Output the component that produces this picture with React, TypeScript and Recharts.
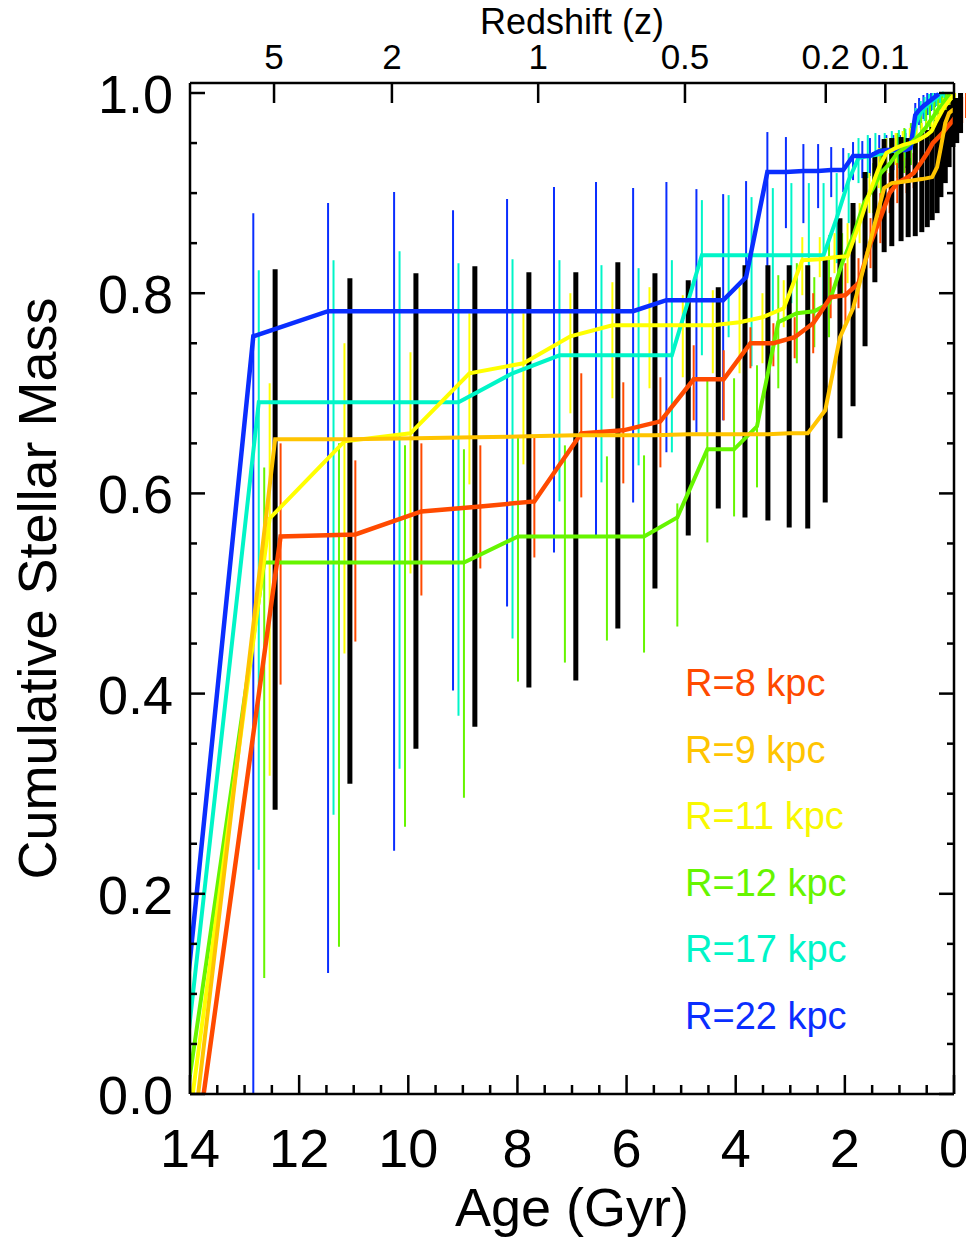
import { LineChart, Line, XAxis, YAxis, ErrorBar, Label, Legend } from "recharts";

const FONT = "'Liberation Sans', Arial, Helvetica, sans-serif";

// age bins (Gyr) of the R=9 kpc series; the other radii are dodged sideways
const binAge = [
  13.85, 12.44, 11.07, 9.86, 8.78, 7.79, 6.93, 6.16, 5.48, 4.87, 4.32, 3.83, 3.41, 3.02, 2.68, 2.36, 2.09,
  1.85, 1.63, 1.45, 1.28, 1.14, 0.97, 0.84, 0.71, 0.59, 0.49, 0.4, 0.31, 0.24, 0.16, 0.09, 0.02, -0.05, -0.12,
];

const r8Mass = [0, 0.557, 0.559, 0.582, 0.587, 0.592, 0.66, 0.663, 0.672, 0.714, 0.714, 0.75, 0.75, 0.756, 0.77, 0.796, 0.798, 0.81, 0.85, 0.875, 0.9, 0.91, 0.915, 0.92, 0.93, 0.94, 0.95, 0.955, 0.96, 0.965, 0.97, 0.975, 0.98, 0.985, 0.99];
const r8Lo = [0, 0.409, 0.452, 0.498, 0.525, 0.536, 0.596, 0.61, 0.626, 0.673, 0.673, 0.725, 0.727, 0.735, 0.74, 0.775, 0.77, 0.785, 0.825, 0.85, 0.88, 0.89, 0.9, 0.905, 0.915, 0.925, 0.935, 0.94, 0.945, 0.95, 0.955, 0.96, 0.965, 0.97, 0.975];
const r8Hi = [0, 0.65, 0.633, 0.65, 0.648, 0.658, 0.72, 0.711, 0.716, 0.748, 0.743, 0.766, 0.77, 0.776, 0.8, 0.816, 0.83, 0.835, 0.875, 0.9, 0.92, 0.93, 0.935, 0.94, 0.945, 0.955, 0.965, 0.97, 0.975, 0.98, 0.985, 0.99, 0.993, 0.996, 1.0];

const r9Mass = [0, 0.654, 0.654, 0.655, 0.656, 0.657, 0.658, 0.658, 0.658, 0.659, 0.659, 0.659, 0.659, 0.66, 0.66, 0.683, 0.756, 0.785, 0.831, 0.87, 0.905, 0.91, 0.911, 0.912, 0.913, 0.914, 0.915, 0.916, 0.926, 0.946, 0.97, 0.98, 0.983, 0.985, 0.99];
const r9Lo = [0, 0.284, 0.31, 0.345, 0.367, 0.406, 0.413, 0.465, 0.505, 0.558, 0.585, 0.576, 0.573, 0.566, 0.565, 0.591, 0.655, 0.687, 0.747, 0.811, 0.841, 0.847, 0.852, 0.856, 0.857, 0.861, 0.866, 0.873, 0.88, 0.896, 0.91, 0.926, 0.946, 0.95, 0.96];
const r9Hi = [0, 0.824, 0.815, 0.82, 0.827, 0.821, 0.821, 0.831, 0.82, 0.813, 0.806, 0.828, 0.828, 0.828, 0.828, 0.834, 0.875, 0.89, 0.921, 0.941, 0.954, 0.955, 0.956, 0.955, 0.954, 0.96, 0.963, 0.966, 0.973, 0.98, 0.983, 0.988, 0.993, 0.995, 1.0];

const r11Mass = [0, 0.575, 0.652, 0.66, 0.72, 0.73, 0.757, 0.768, 0.768, 0.768, 0.768, 0.771, 0.776, 0.785, 0.833, 0.834, 0.836, 0.837, 0.87, 0.9, 0.925, 0.94, 0.945, 0.948, 0.95, 0.952, 0.955, 0.958, 0.962, 0.97, 0.978, 0.985, 0.99, 0.995, 0.998];
const r11Lo = [0, 0.318, 0.44, 0.52, 0.609, 0.629, 0.68, 0.695, 0.705, 0.716, 0.72, 0.72, 0.73, 0.766, 0.798, 0.816, 0.82, 0.81, 0.85, 0.88, 0.905, 0.92, 0.928, 0.932, 0.935, 0.938, 0.94, 0.943, 0.948, 0.955, 0.965, 0.972, 0.978, 0.985, 0.99];
const r11Hi = [0, 0.71, 0.75, 0.741, 0.78, 0.78, 0.8, 0.811, 0.806, 0.798, 0.803, 0.806, 0.8, 0.813, 0.856, 0.856, 0.86, 0.87, 0.89, 0.92, 0.945, 0.955, 0.96, 0.962, 0.965, 0.967, 0.97, 0.972, 0.976, 0.982, 0.99, 0.995, 0.998, 1.0, 1.0];

const r12Mass = [0, 0.531, 0.531, 0.531, 0.531, 0.557, 0.557, 0.557, 0.557, 0.576, 0.644, 0.644, 0.667, 0.771, 0.78, 0.782, 0.79, 0.83, 0.86, 0.89, 0.905, 0.92, 0.93, 0.94, 0.945, 0.95, 0.955, 0.96, 0.966, 0.972, 0.978, 0.984, 0.988, 0.994, 0.999];
const r12Lo = [0, 0.116, 0.147, 0.267, 0.296, 0.412, 0.431, 0.453, 0.441, 0.467, 0.551, 0.577, 0.606, 0.705, 0.73, 0.746, 0.756, 0.8, 0.835, 0.865, 0.88, 0.895, 0.905, 0.915, 0.92, 0.928, 0.933, 0.94, 0.946, 0.952, 0.96, 0.966, 0.972, 0.98, 0.985];
const r12Hi = [0, 0.626, 0.65, 0.648, 0.644, 0.658, 0.648, 0.637, 0.638, 0.59, 0.716, 0.715, 0.728, 0.818, 0.83, 0.816, 0.858, 0.86, 0.885, 0.915, 0.93, 0.945, 0.955, 0.96, 0.965, 0.97, 0.975, 0.98, 0.985, 0.99, 0.995, 0.998, 1.0, 1.0, 1.0];

const r17Mass = [0, 0.691, 0.691, 0.691, 0.691, 0.72, 0.738, 0.738, 0.738, 0.738, 0.838, 0.838, 0.838, 0.838, 0.838, 0.838, 0.838, 0.875, 0.913, 0.935, 0.937, 0.938, 0.94, 0.942, 0.943, 0.944, 0.946, 0.97, 0.98, 0.985, 0.989, 0.992, 0.995, 0.998, 1.0];
const r17Lo = [0, 0.224, 0.279, 0.325, 0.378, 0.455, 0.592, 0.611, 0.628, 0.641, 0.738, 0.756, 0.727, 0.78, 0.79, 0.8, 0.78, 0.83, 0.87, 0.91, 0.915, 0.918, 0.92, 0.922, 0.925, 0.927, 0.93, 0.955, 0.965, 0.972, 0.978, 0.983, 0.987, 0.99, 0.993];
const r17Hi = [0, 0.823, 0.833, 0.842, 0.83, 0.834, 0.833, 0.828, 0.825, 0.833, 0.893, 0.898, 0.896, 0.905, 0.91, 0.91, 0.91, 0.92, 0.94, 0.955, 0.958, 0.96, 0.96, 0.962, 0.963, 0.964, 0.966, 0.985, 0.992, 0.996, 0.999, 1.0, 1.0, 1.0, 1.0];

const r22Mass = [0, 0.757, 0.782, 0.782, 0.782, 0.782, 0.782, 0.782, 0.782, 0.793, 0.793, 0.793, 0.816, 0.921, 0.921, 0.922, 0.922, 0.923, 0.923, 0.937, 0.937, 0.937, 0.942, 0.943, 0.943, 0.943, 0.943, 0.945, 0.978, 0.983, 0.987, 0.99, 0.993, 0.996, 0.999];
const r22Lo = [0, 0, 0.121, 0.243, 0.403, 0.487, 0.541, 0.556, 0.591, 0.641, 0.661, 0.673, 0.698, 0.766, 0.865, 0.87, 0.885, 0.896, 0.901, 0.913, 0.915, 0.917, 0.92, 0.922, 0.923, 0.924, 0.925, 0.928, 0.96, 0.968, 0.974, 0.978, 0.982, 0.986, 0.99];
const r22Hi = [0, 0.88, 0.89, 0.901, 0.883, 0.894, 0.906, 0.911, 0.905, 0.911, 0.904, 0.899, 0.912, 0.961, 0.956, 0.949, 0.949, 0.946, 0.945, 0.951, 0.952, 0.955, 0.958, 0.958, 0.958, 0.958, 0.96, 0.963, 0.99, 0.995, 0.998, 1.0, 1.0, 1.0, 1.0];

const ageTicks = [0, 0.5, 1, 1.5, 2, 2.5, 3, 3.5, 4, 4.5, 5, 5.5, 6, 6.5, 7, 7.5, 8, 8.5, 9, 9.5, 10, 10.5, 11, 11.5, 12, 12.5, 13, 13.5, 14];
const massTicks = [0, 0.05, 0.1, 0.15, 0.2, 0.25, 0.3, 0.35, 0.4, 0.45, 0.5, 0.55, 0.6, 0.65, 0.7, 0.75, 0.8, 0.85, 0.9, 0.95, 1.0];
const zAges = [12.46, 10.3, 7.62, 4.93, 2.35, 1.26];
const zLabels = ["5", "2", "1", "0.5", "0.2", "0.1"];

const series = [
  { name: "R=8 kpc", color: "#ff4a00", bar: "#ff4a00", dodge: -0.1, width: 4.5, barWidth: 2, mass: r8Mass, lo: r8Lo, hi: r8Hi },
  { name: "R=9 kpc", color: "#ffc400", bar: "#000000", dodge: 0, width: 4, barWidth: 5, mass: r9Mass, lo: r9Lo, hi: r9Hi },
  { name: "R=11 kpc", color: "#ffff00", bar: "#ffff00", dodge: 0.1, width: 4, barWidth: 2, mass: r11Mass, lo: r11Lo, hi: r11Hi },
  { name: "R=12 kpc", color: "#66f500", bar: "#66f500", dodge: 0.2, width: 4, barWidth: 2, mass: r12Mass, lo: r12Lo, hi: r12Hi },
  { name: "R=17 kpc", color: "#00f5c8", bar: "#00f5c8", dodge: 0.3, width: 4, barWidth: 2, mass: r17Mass, lo: r17Lo, hi: r17Hi },
  { name: "R=22 kpc", color: "#0a2eff", bar: "#0a2eff", dodge: 0.4, width: 4.5, barWidth: 2, mass: r22Mass, lo: r22Lo, hi: r22Hi },
];

const barOrder = ["R=22 kpc", "R=17 kpc", "R=12 kpc", "R=11 kpc", "R=8 kpc", "R=9 kpc"];
const lineOrder = ["R=17 kpc", "R=22 kpc", "R=12 kpc", "R=11 kpc", "R=8 kpc", "R=9 kpc"];

function toPoints(s: (typeof series)[number]) {
  return binAge.map((a, i) => ({
    age: a + s.dodge,
    m: s.mass[i],
    err: [s.mass[i] - s.lo[i], s.hi[i] - s.mass[i]],
  }));
}

const byName = (n: string) => series.find((s) => s.name === n)!;

function AgeTick(props: any) {
  const { x, y, payload } = props;
  const v = payload.value as number;
  const major = Math.abs(v / 2 - Math.round(v / 2)) < 1e-6;
  return (
    <g>
      <line x1={x} x2={x} y1={y} y2={y - (major ? 19 : 9)} stroke="#000" strokeWidth={2.5} />
      {major && (
        <text x={x} y={y + 73} textAnchor="middle" fontSize={54} fontFamily={FONT} fill="#000">
          {v}
        </text>
      )}
    </g>
  );
}

function ZTick(props: any) {
  const { x, y, index } = props;
  return (
    <g>
      <line x1={x} x2={x} y1={y} y2={y + 20} stroke="#000" strokeWidth={2.5} />
      <text x={x} y={y - 14} textAnchor="middle" fontSize={35} fontFamily={FONT} fill="#000">
        {zLabels[index]}
      </text>
    </g>
  );
}

function isMajorMass(v: number) {
  return Math.abs(v / 0.2 - Math.round(v / 0.2)) < 1e-6;
}

function MassTick(props: any) {
  const { x, y, payload } = props;
  const v = payload.value as number;
  const major = isMajorMass(v);
  return (
    <g>
      <line x1={x} x2={x + (major ? 15 : 7)} y1={y} y2={y} stroke="#000" strokeWidth={2.5} />
      {major && (
        <text x={x - 17} y={y + 20} textAnchor="end" fontSize={54} fontFamily={FONT} fill="#000">
          {v.toFixed(1)}
        </text>
      )}
    </g>
  );
}

function RightTick(props: any) {
  const { x, y, payload } = props;
  const major = isMajorMass(payload.value);
  return <line x1={x} x2={x - (major ? 15 : 7)} y1={y} y2={y} stroke="#000" strokeWidth={2.5} />;
}

function LegendBox() {
  return (
    <div style={{ fontFamily: FONT, fontSize: 38, lineHeight: "66.6px", whiteSpace: "nowrap" }}>
      {series.map((s) => (
        <div key={s.name} style={{ color: s.color === "#ffff00" ? "#f8f800" : s.color }}>
          {s.name}
        </div>
      ))}
    </div>
  );
}

const frame = { stroke: "#000", strokeWidth: 2.5 };

export default function App() {
  const goldPts = toPoints(byName("R=9 kpc"));
  return (
    <LineChart width={966} height={1236} margin={{ top: 0, right: 0, bottom: 0, left: 0 }}>
      <XAxis
        xAxisId="age"
        dataKey="age"
        type="number"
        domain={[0, 14]}
        reversed
        allowDataOverflow
        ticks={ageTicks}
        interval={0}
        tickSize={0}
        tickMargin={0}
        tickLine={false}
        tick={AgeTick}
        axisLine={frame}
        height={150}
      >
        <Label
          content={(p: any) => (
            <text
              x={p.viewBox.x + p.viewBox.width / 2}
              y={p.viewBox.y + 132}
              textAnchor="middle"
              fontSize={54}
              fontFamily={FONT}
              fill="#000"
            >
              Age (Gyr)
            </text>
          )}
        />
      </XAxis>
      <XAxis
        xAxisId="z"
        dataKey="age"
        orientation="top"
        type="number"
        domain={[0, 14]}
        reversed
        allowDataOverflow
        ticks={zAges}
        interval={0}
        tickSize={0}
        tickMargin={0}
        tickLine={false}
        tick={ZTick}
        axisLine={frame}
        height={75}
      >
        <Label
          content={(p: any) => (
            <text
              x={p.viewBox.x + p.viewBox.width / 2}
              y={26}
              textAnchor="middle"
              fontSize={36}
              fontFamily={FONT}
              fill="#000"
            >
              Redshift (z)
            </text>
          )}
        />
      </XAxis>
      <YAxis
        yAxisId="mass"
        type="number"
        domain={[0, 1.01]}
        allowDataOverflow
        ticks={massTicks}
        interval={0}
        tickSize={0}
        tickMargin={0}
        tickLine={false}
        tick={MassTick}
        axisLine={frame}
        width={182}
      >
        <Label
          content={(p: any) => {
            const cy = p.viewBox.y + p.viewBox.height / 2;
            return (
              <text
                x={48}
                y={cy}
                transform={`rotate(-90, 48, ${cy})`}
                textAnchor="middle"
                fontSize={54}
                fontFamily={FONT}
                fill="#000"
              >
                Cumulative Stellar Mass
              </text>
            );
          }}
        />
      </YAxis>
      <YAxis
        yAxisId="right"
        orientation="right"
        type="number"
        domain={[0, 1.01]}
        allowDataOverflow
        ticks={massTicks}
        interval={0}
        tickSize={0}
        tickMargin={0}
        tickLine={false}
        tick={RightTick}
        axisLine={frame}
        width={20}
      />

      {/* hidden series so the top and right axes get their own scales */}
      <Line data={goldPts} dataKey="m" xAxisId="z" yAxisId="right" stroke="none" dot={false} activeDot={false} legendType="none" isAnimationActive={false} />

      {barOrder.map((n) => {
        const s = byName(n);
        return (
          <Line
            key={"bars-" + n}
            data={toPoints(s)}
            dataKey="m"
            xAxisId="age"
            yAxisId="mass"
            stroke="none"
            dot={false}
            activeDot={false}
            legendType="none"
            isAnimationActive={false}
          >
            <ErrorBar
              dataKey="err"
              direction="y"
              width={0}
              stroke={s.bar}
              strokeWidth={s.barWidth}
              isAnimationActive={false}
            />
          </Line>
        );
      })}

      {lineOrder.map((n) => {
        const s = byName(n);
        return (
          <Line
            key={"line-" + n}
            data={toPoints(s)}
            dataKey="m"
            name={s.name}
            xAxisId="age"
            yAxisId="mass"
            type="linear"
            stroke={s.color}
            strokeWidth={s.width}
            strokeLinejoin="miter"
            dot={false}
            activeDot={false}
            isAnimationActive={false}
          />
        );
      })}

      <Legend
        layout="vertical"
        align="center"
        verticalAlign="middle"
        content={() => <LegendBox />}
        wrapperStyle={{ left: 677, top: 642, width: "auto", height: "auto" }}
      />
    </LineChart>
  );
}
